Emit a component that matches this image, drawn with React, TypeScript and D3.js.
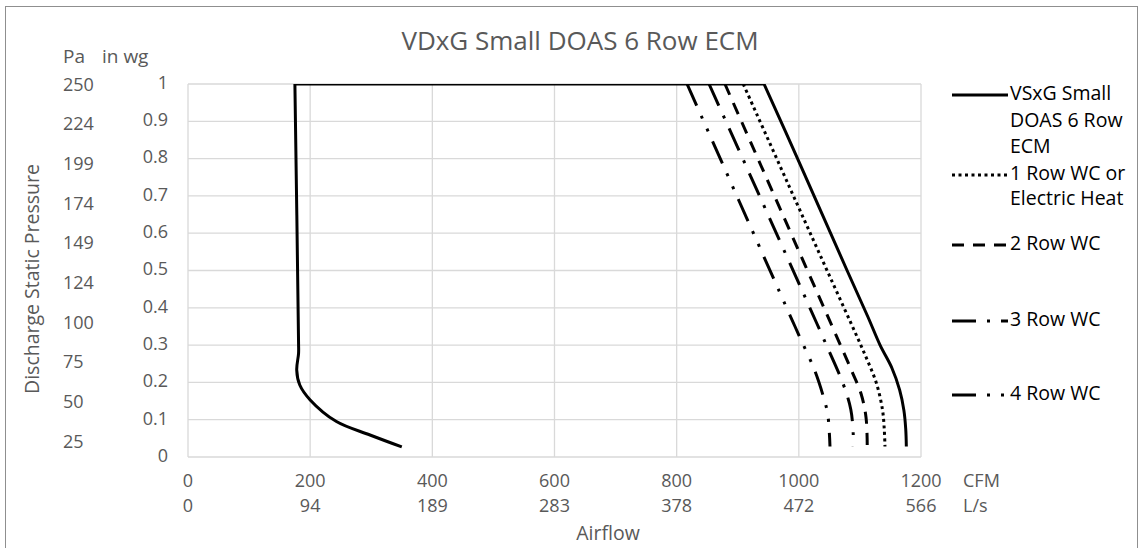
import React from 'react';
import * as d3 from 'd3';

const W = 1144;
const H = 548;

const title = 'VDxG Small DOAS 6 Row ECM';
const cfmTicks = [0, 200, 400, 600, 800, 1000, 1200];
const lsTicks = ['0', '94', '189', '283', '378', '472', '566'];
const inwgTicks = [0, 0.1, 0.2, 0.3, 0.4, 0.5, 0.6, 0.7, 0.8, 0.9, 1];
const paLabels = ['250', '224', '199', '174', '149', '124', '100', '75', '50', '25'];

type P = [number, number]; // [CFM, in wg]

const fanCurve: P[] = [
  [350, 0.027], [298, 0.059], [243, 0.095], [200, 0.153], [183, 0.193], [178, 0.233],
  [181, 0.278], [181, 0.305], [175, 1.0], [943, 1.0], [999, 0.796], [1079, 0.5],
  [1113, 0.376], [1133, 0.3], [1152, 0.24], [1165, 0.18], [1172, 0.125], [1175, 0.075],
  [1176, 0.028],
];
const row1: P[] = [
  [909, 1.0], [995, 0.686], [1049, 0.49], [1096, 0.32], [1112, 0.26], [1127, 0.198],
  [1137, 0.126], [1140, 0.07], [1141, 0.028],
];
const row2: P[] = [
  [879, 1.0], [1010, 0.515], [1056, 0.345], [1087, 0.229], [1102, 0.169], [1110, 0.106],
  [1112, 0.028],
];
const row3: P[] = [
  [853, 1.0], [1006, 0.444], [1040, 0.319], [1073, 0.194], [1085, 0.128], [1089, 0.063],
  [1089, 0.028],
];
const row4: P[] = [
  [817, 1.0], [983, 0.389], [1000, 0.327], [1026, 0.232], [1040, 0.163], [1047, 0.118],
  [1050, 0.063], [1051, 0.028],
];

const seriesNames = [
  ['VSxG Small', 'DOAS 6 Row', 'ECM'],
  ['1 Row WC or', 'Electric Heat'],
  ['2 Row WC'],
  ['3 Row WC'],
  ['4 Row WC'],
];
const seriesData = [fanCurve, row1, row2, row3, row4];
const dashes = ['', '3 3.5', '12 9', '24 11 3 11', '24 11 3 11 3 11'];
const legendY = [95, 175, 245, 321, 395];

const FONT = "'Open Sans', 'Noto Sans', sans-serif";
const GRAY = '#595959';

export default function App() {
  const left = 188, right = 921, top = 84, bottom = 457;
  const x = d3.scaleLinear().domain([0, 1200]).range([left, right]);
  const y = d3.scaleLinear().domain([0, 1]).range([bottom, top]);
  const paY = d3.scaleLinear().domain([0, paLabels.length - 1]).range([86, 443]);

  const line = d3
    .line<P>()
    .x((d) => x(d[0]))
    .y((d) => y(d[1]))
    .curve(d3.curveCatmullRom.alpha(0.5));

  // duplicate points on the top edge so the curve makes sharp corners there
  const withCorners = (pts: P[]) =>
    pts.flatMap((p, i) => (p[1] === 1 && i > 0 && i < pts.length - 1 ? [p, p] : [p]));

  return (
    <svg
      width={W}
      height={H}
      style={{ position: 'absolute', left: 0, top: 0, background: '#fff' }}
      fontFamily={FONT}
    >
      <defs>
        <clipPath id="plot">
          <rect x={left} y={top} width={right - left} height={bottom - top} />
        </clipPath>
      </defs>
      <rect x={5.5} y={6.5} width={1132} height={570} fill="#fff" stroke="#8f8f8f" strokeWidth={1} />

      <text x={580} y={43} textAnchor="middle" dominantBaseline="middle" fontSize={26} fill={GRAY}>
        {title}
      </text>

      {/* grid */}
      {inwgTicks.map((t) => (
        <line key={'h' + t} x1={left} x2={right} y1={y(t)} y2={y(t)} stroke="#d9d9d9" strokeWidth={1.3} />
      ))}
      {cfmTicks.map((t) => (
        <line key={'v' + t} x1={x(t)} x2={x(t)} y1={top} y2={bottom} stroke="#d9d9d9" strokeWidth={1.3} />
      ))}

      {/* y tick labels */}
      {inwgTicks.map((t) => (
        <text key={'yl' + t} x={168} y={y(t)} textAnchor="end" dominantBaseline="middle" fontSize={18} fill={GRAY}>
          {String(+t.toFixed(1))}
        </text>
      ))}
      {paLabels.map((p, i) => (
        <text key={'pa' + p} x={63} y={paY(i)} dominantBaseline="middle" fontSize={18} fill={GRAY}>
          {p}
        </text>
      ))}
      <text x={63} y={58} dominantBaseline="middle" fontSize={19} fill={GRAY}>
        Pa
      </text>
      <text x={102} y={58} dominantBaseline="middle" fontSize={19} fill={GRAY}>
        in wg
      </text>
      <text
        transform={`translate(34,279) rotate(-90)`}
        textAnchor="middle"
        dominantBaseline="middle"
        fontSize={19.5}
        fill={GRAY}
      >
        Discharge Static Pressure
      </text>

      {/* x tick labels */}
      {cfmTicks.map((t, i) => (
        <g key={'xl' + t}>
          <text x={x(t)} y={482} textAnchor="middle" dominantBaseline="middle" fontSize={18} fill={GRAY}>
            {t}
          </text>
          <text x={x(t)} y={507} textAnchor="middle" dominantBaseline="middle" fontSize={18} fill={GRAY}>
            {lsTicks[i]}
          </text>
        </g>
      ))}
      <text x={963} y={482} dominantBaseline="middle" fontSize={18} fill={GRAY}>
        CFM
      </text>
      <text x={963} y={507} dominantBaseline="middle" fontSize={18} fill={GRAY}>
        L/s
      </text>
      <text x={608} y={535} textAnchor="middle" dominantBaseline="middle" fontSize={19.5} fill={GRAY}>
        Airflow
      </text>

      {/* series */}
      <g clipPath="url(#plot)">
        {seriesData.map((s, i) => (
          <path
            key={'s' + i}
            d={line(withCorners(s)) || ''}
            fill="none"
            stroke="#000"
            strokeWidth={3}
            strokeDasharray={dashes[i] || undefined}
            strokeLinejoin="round"
          />
        ))}
      </g>

      {/* legend */}
      {seriesNames.map((names, i) => (
        <g key={'lg' + i}>
          <line
            x1={952}
            x2={1008}
            y1={legendY[i]}
            y2={legendY[i]}
            stroke="#000"
            strokeWidth={3}
            strokeDasharray={dashes[i] || undefined}
          />
          {names.map((n, j) => (
            <text
              key={n}
              x={1010}
              y={legendY[i] + j * (i === 0 ? 26.5 : 25)}
              dominantBaseline="middle"
              fontSize={19.5}
              fill="#000"
            >
              {n}
            </text>
          ))}
        </g>
      ))}
    </svg>
  );
}
